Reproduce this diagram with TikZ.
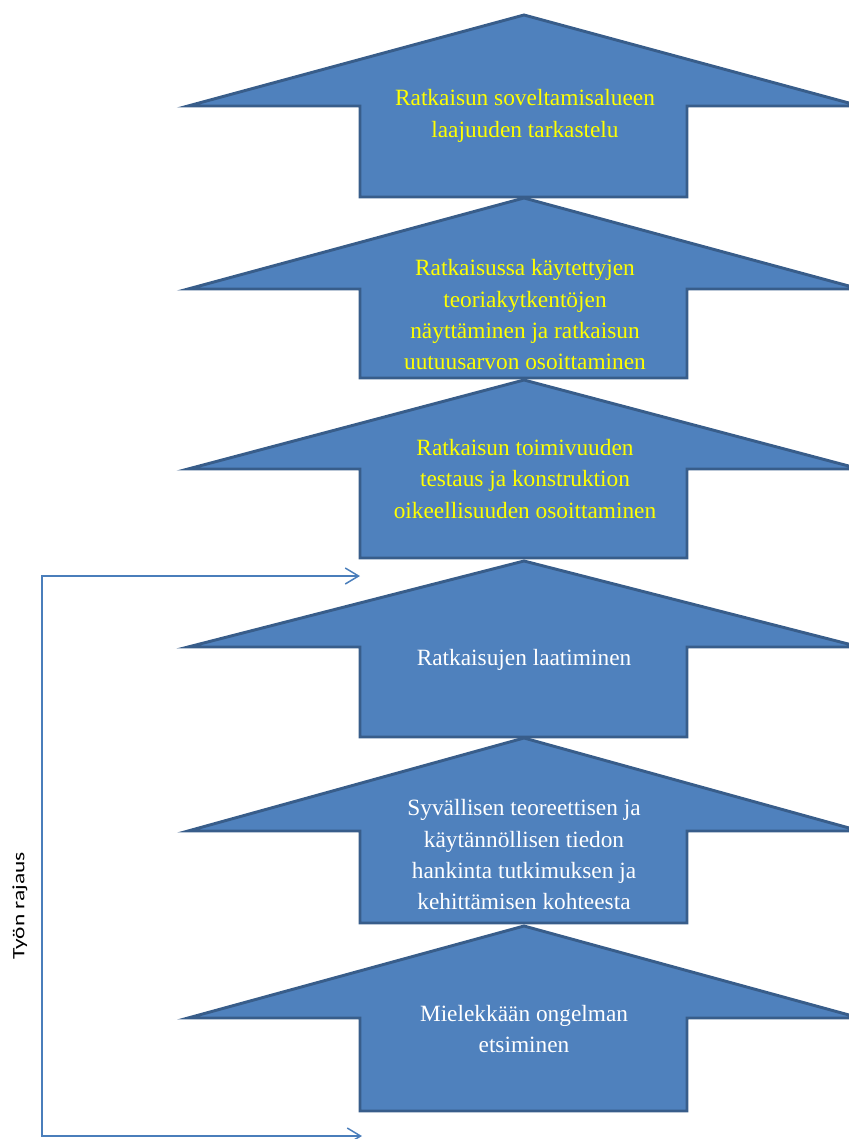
\documentclass[tikz,border=0pt]{standalone}
\usepackage{fontspec}
\setmainfont{Liberation Serif}
\newfontfamily\rajausfont{Carlito}
\usetikzlibrary{arrows.meta}
\definecolor{stagefill}{HTML}{4F81BD}
\definecolor{stageline}{HTML}{385D8A}
\definecolor{rangeline}{HTML}{4A7EBB}
\definecolor{stageyellow}{HTML}{FFFF00}

\begin{document}
\begin{tikzpicture}[x=0.75pt, y=-0.75pt,
    stage/.style={fill=stagefill, draw=stageline, line width=2.2pt, line join=miter},
    stagetext/.style={align=center, inner sep=0pt, font=\fontsize{17.5}{23.5}\selectfont},
    rajausline/.style={draw=rangeline, line width=1.1pt,
      {Straight Barb[length=10pt,width=12pt]}-{Straight Barb[length=10pt,width=12pt]}}]
    \useasboundingbox (0,0) rectangle (849,1139);
    % six stacked up-arrows: apex / head base / shaft bottom
    \foreach \ytop/\ybase/\ybot in {15/106/197, 198/289/378, 380/469/558,
                                    561/647/737, 738/831/923, 926/1018/1111}
      \draw[stage] (524,\ytop) -- (860,\ybase) -- (687,\ybase) -- (687,\ybot)
        -- (360,\ybot) -- (360,\ybase) -- (188,\ybase) -- cycle;
    \node[stagetext, text=stageyellow] (sovellus) at (525,116)
      {Ratkaisun soveltamisalueen\\laajuuden tarkastelu};
    \node[stagetext, text=stageyellow] (teoria) at (525,315)
      {Ratkaisussa käytettyjen\\teoriakytkentöjen\\näyttäminen ja ratkaisun\\uutuusarvon osoittaminen};
    \node[stagetext, text=stageyellow] (testaus) at (525,479)
      {Ratkaisun toimivuuden\\testaus ja konstruktion\\oikeellisuuden osoittaminen};
    \node[stagetext, text=white] (laadinta) at (524,660) {Ratkaisujen laatiminen};
    \node[stagetext, text=white] (hankinta) at (524,855)
      {Syvällisen teoreettisen ja\\käytännöllisen tiedon\\hankinta tutkimuksen ja\\kehittämisen kohteesta};
    \node[stagetext, text=white] (ongelma) at (524,1029)
      {Mielekkään ongelman\\etsiminen};
    % scope bracket
    \coordinate (rtop) at (360,576);
    \coordinate (ctop) at (42,576);
    \coordinate (cbot) at (42,1136);
    \coordinate (rbot) at (362,1136);
    \draw[rajausline] (rtop) -- (ctop) -- (cbot) -- (rbot);
    \node[rotate=90, xscale=1.35, inner sep=0pt, font=\rajausfont\fontsize{13}{15}\selectfont]
      (rajaus) at (20,906) {Työn rajaus};
\end{tikzpicture}
\end{document}
